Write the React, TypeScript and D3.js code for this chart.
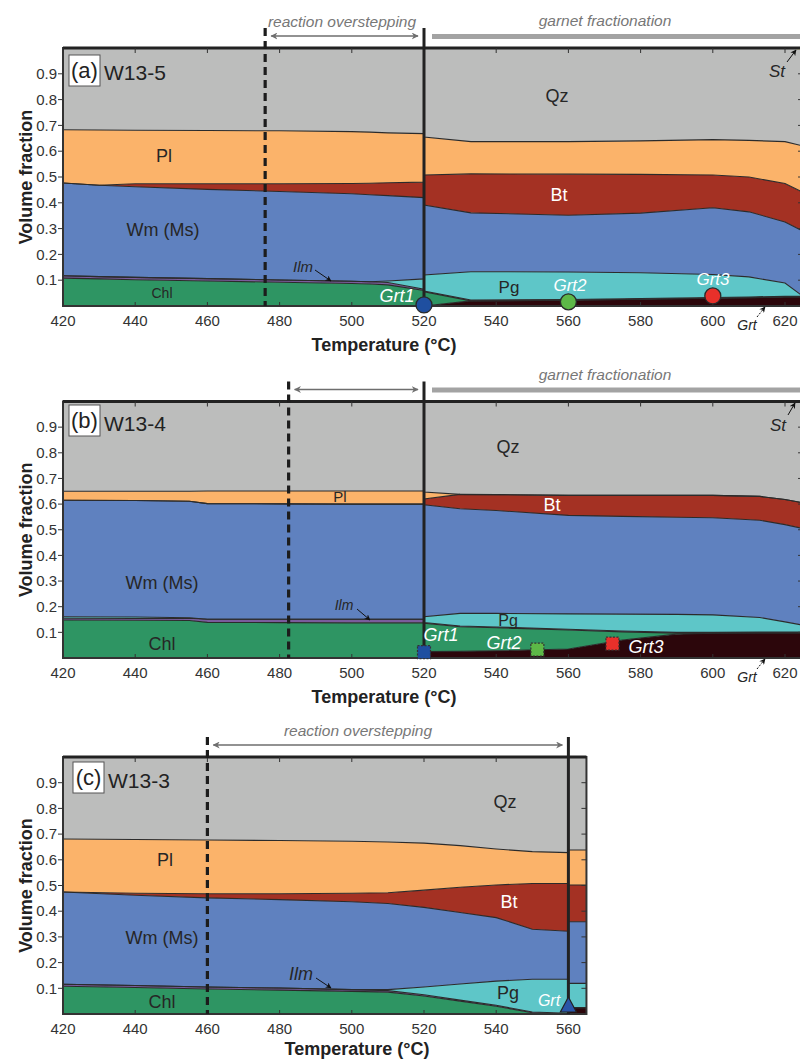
import React from 'react';
import * as d3 from 'd3';

// ---------- data ----------
const PHASES = ['Grt', 'Chl', 'Ilm', 'Pg', 'Wm', 'Bt', 'Pl', 'Qz', 'St'];
const PHASE_COLORS: Record<string, string> = {
  Grt: '#2c060b', Chl: '#2e9563', Ilm: '#7a5c9c', Pg: '#5ec6c8', Wm: '#5f81bf',
  Bt: '#a43123', Pl: '#fbb36a', Qz: '#bcbdbc', St: '#f2e51c',
};
const X_TICKS_AB = [420, 440, 460, 480, 500, 520, 540, 560, 580, 600, 620];
const X_TICKS_C = [420, 440, 460, 480, 500, 520, 540, 560];
const Y_TICKS = [0.1, 0.2, 0.3, 0.4, 0.5, 0.6, 0.7, 0.8, 0.9];

// (a) W13-5
const tempA = [420, 430, 440, 460, 480, 500, 505, 510, 520, 520, 533, 560, 580, 600, 610, 620, 625];
const grtA = [0, 0, 0, 0, 0, 0, 0, 0, 0, 0, 0.02, 0.022, 0.026, 0.03, 0.032, 0.035, 0.035];
const chlA = [0.108, 0.105, 0.102, 0.097, 0.092, 0.087, 0.085, 0.082, 0.06, 0.055, 0, 0, 0, 0, 0, 0, 0];
const ilmA = [0.009, 0.009, 0.009, 0.009, 0.009, 0.009, 0.009, 0.009, 0.005, 0.003, 0.003, 0.003, 0.003, 0.003, 0.003, 0.003, 0.002];
const pgA = [0, 0, 0, 0, 0, 0, 0, 0.006, 0.04, 0.062, 0.11, 0.107, 0.1, 0.089, 0.078, 0.051, 0];
const wmA = [0.36, 0.354, 0.351, 0.346, 0.343, 0.339, 0.337, 0.331, 0.315, 0.271, 0.228, 0.22, 0.231, 0.259, 0.252, 0.237, 0.253];
const btA = [0, 0, 0.012, 0.022, 0.03, 0.04, 0.045, 0.05, 0.06, 0.117, 0.151, 0.159, 0.15, 0.127, 0.135, 0.149, 0.15];
const plA = [0.206, 0.214, 0.207, 0.206, 0.205, 0.201, 0.198, 0.193, 0.188, 0.147, 0.125, 0.126, 0.13, 0.137, 0.142, 0.162, 0.18];
const qzA = [0.317, 0.318, 0.319, 0.32, 0.321, 0.324, 0.326, 0.329, 0.332, 0.345, 0.363, 0.363, 0.36, 0.355, 0.358, 0.361, 0.375];
const stA = [0, 0, 0, 0, 0, 0, 0, 0, 0, 0, 0, 0, 0, 0, 0, 0.002, 0.005];
const grtPointsA = [
  { label: '1', t: 520, v: 0.004, color: '#1f4fa0' },
  { label: '2', t: 560, v: 0.016, color: '#5db847' },
  { label: '3', t: 600, v: 0.039, color: '#e8302a' },
];

// (b) W13-4
const tempB = [420, 440, 455, 460, 480, 500, 510, 520, 520, 530, 540, 560, 575, 590, 600, 613, 620, 625];
const grtB = [0, 0, 0, 0, 0, 0, 0, 0, 0.025, 0.026, 0.028, 0.035, 0.07, 0.093, 0.097, 0.098, 0.098, 0.098];
const chlB = [0.148, 0.147, 0.146, 0.139, 0.138, 0.137, 0.137, 0.137, 0.11, 0.096, 0.09, 0.074, 0.032, 0.004, 0, 0, 0, 0];
const ilmB = [0.007, 0.007, 0.009, 0.012, 0.013, 0.014, 0.014, 0.014, 0.003, 0.003, 0.003, 0.003, 0.003, 0.003, 0.003, 0.003, 0.003, 0.003];
const pgB = [0.006, 0.006, 0.002, 0, 0, 0, 0, 0, 0.023, 0.049, 0.053, 0.06, 0.066, 0.07, 0.068, 0.057, 0.04, 0.027];
const wmB = [0.454, 0.454, 0.454, 0.451, 0.45, 0.449, 0.449, 0.449, 0.436, 0.408, 0.401, 0.384, 0.381, 0.379, 0.379, 0.379, 0.379, 0.377];
const btB = [0, 0, 0, 0, 0, 0, 0, 0, 0.023, 0.056, 0.062, 0.078, 0.082, 0.085, 0.087, 0.093, 0.098, 0.1];
const plB = [0.035, 0.036, 0.039, 0.049, 0.05, 0.051, 0.051, 0.051, 0.027, 0, 0, 0, 0, 0, 0, 0, 0, 0];
const qzB = [0.35, 0.35, 0.35, 0.349, 0.349, 0.349, 0.349, 0.349, 0.353, 0.362, 0.363, 0.366, 0.366, 0.366, 0.366, 0.37, 0.379, 0.389];
const stB = [0, 0, 0, 0, 0, 0, 0, 0, 0, 0, 0, 0, 0, 0, 0, 0, 0.003, 0.006];
const grtPointsB = [
  { label: '1', t: 520, v: 0.023, color: '#1f4fa0' },
  { label: '2', t: 551.4, v: 0.033, color: '#5db847' },
  { label: '3', t: 572.2, v: 0.056, color: '#e8302a' },
];

// (c) W13-3
const tempC = [420, 440, 460, 480, 500, 510, 520, 530, 540, 550, 560, 560, 565];
const grtC = [0, 0, 0, 0, 0, 0, 0, 0, 0, 0, 0, 0.025, 0.025];
const chlC = [0.108, 0.103, 0.097, 0.093, 0.088, 0.085, 0.07, 0.05, 0.03, 0.005, 0, 0, 0];
const ilmC = [0.008, 0.008, 0.008, 0.008, 0.007, 0.006, 0.005, 0.004, 0.004, 0.003, 0.003, 0, 0];
const pgC = [0, 0, 0, 0, 0, 0.004, 0.03, 0.063, 0.094, 0.127, 0.132, 0.094, 0.094];
const wmC = [0.359, 0.351, 0.347, 0.344, 0.342, 0.335, 0.31, 0.278, 0.247, 0.195, 0.187, 0.24, 0.24];
const btC = [0, 0.008, 0.016, 0.023, 0.033, 0.042, 0.067, 0.098, 0.127, 0.178, 0.186, 0.143, 0.143];
const plC = [0.206, 0.209, 0.209, 0.207, 0.202, 0.197, 0.183, 0.162, 0.14, 0.124, 0.12, 0.136, 0.136];
const qzC = [0.319, 0.321, 0.323, 0.325, 0.328, 0.331, 0.335, 0.345, 0.358, 0.368, 0.372, 0.362, 0.362];
const stC = [0, 0, 0, 0, 0, 0, 0, 0, 0, 0, 0, 0, 0];
const grtPointsC = [{ label: '', t: 560, v: 0.035, color: '#2a55a8' }];

// ---------- layout ----------
const PX_PER_DEG = 3.61;
const LEFT = 63;
const FONT = '"Liberation Sans", Arial, sans-serif';

type Label = { text: string; x: number; y: number; size: number; color?: string; italic?: boolean };

const panels = [
  {
    id: 'a', box: '(a)', sample: 'W13-5', domain: [420, 625], top: 48, bottom: 306, xTicks: X_TICKS_AB,
    temps: tempA,
    series: { Grt: grtA, Chl: chlA, Ilm: ilmA, Pg: pgA, Wm: wmA, Bt: btA, Pl: plA, Qz: qzA, St: stA },
    dashedT: 476, solidT: 520, overstep: { text: true, cx: 342 }, fraction: true,
    boxX: 69, boxY: 55, sampleX: 104, sampleY: 80,
    xTitleX: 384, xTitleDy: 45,
    labels: [
      { text: 'Qz', x: 557, y: 96, size: 18 },
      { text: 'Pl', x: 164, y: 156, size: 18 },
      { text: 'Bt', x: 559, y: 195, size: 18, color: '#fff' },
      { text: 'Wm (Ms)', x: 163, y: 230, size: 18 },
      { text: 'Chl', x: 162, y: 293, size: 14 },
      { text: 'Pg', x: 509, y: 287, size: 17 },
    ] as Label[],
    ilm: { x: 303, y: 267, size: 15, ax0: 315, ay0: 270, ax1: 331, ay1: 281 },
    st: { x: 777, y: 71, ax0: 787, ay0: 62, ax1: 796, ay1: 50 },
    grtBelow: { x: 747, y: 325, ax0: 757, ay0: 317, ax1: 765, ay1: 307 },
    points: grtPointsA, shape: 'circle',
    pointLabels: [
      { text: 'Grt1', x: 397, y: 296, size: 18 },
      { text: 'Grt2', x: 570, y: 285, size: 17 },
      { text: 'Grt3', x: 713, y: 279, size: 17 },
    ] as Label[],
  },
  {
    id: 'b', box: '(b)', sample: 'W13-4', domain: [420, 625], top: 401.5, bottom: 658, xTicks: X_TICKS_AB,
    temps: tempB,
    series: { Grt: grtB, Chl: chlB, Ilm: ilmB, Pg: pgB, Wm: wmB, Bt: btB, Pl: plB, Qz: qzB, St: stB },
    dashedT: 482.5, solidT: 520, overstep: { text: false, cx: 0 }, fraction: true,
    boxX: 69, boxY: 405, sampleX: 104, sampleY: 431,
    xTitleX: 384, xTitleDy: 45,
    labels: [
      { text: 'Qz', x: 508, y: 447, size: 18 },
      { text: 'Pl', x: 340, y: 497, size: 15 },
      { text: 'Bt', x: 552, y: 505, size: 18, color: '#fff' },
      { text: 'Wm (Ms)', x: 162, y: 583, size: 18 },
      { text: 'Chl', x: 162, y: 644, size: 18 },
      { text: 'Pg', x: 508, y: 620, size: 16 },
    ] as Label[],
    ilm: { x: 344, y: 605, size: 14, ax0: 357, ay0: 609, ax1: 370, ay1: 620 },
    st: { x: 778, y: 425, ax0: 788, ay0: 415, ax1: 795, ay1: 403 },
    grtBelow: { x: 747, y: 677, ax0: 757, ay0: 669, ax1: 765, ay1: 659 },
    points: grtPointsB, shape: 'square',
    pointLabels: [
      { text: 'Grt1', x: 441, y: 635, size: 18 },
      { text: 'Grt2', x: 504, y: 643, size: 18 },
      { text: 'Grt3', x: 646, y: 647, size: 18 },
    ] as Label[],
  },
  {
    id: 'c', box: '(c)', sample: 'W13-3', domain: [420, 565], top: 757, bottom: 1014, xTicks: X_TICKS_C,
    temps: tempC,
    series: { Grt: grtC, Chl: chlC, Ilm: ilmC, Pg: pgC, Wm: wmC, Bt: btC, Pl: plC, Qz: qzC, St: stC },
    dashedT: 460, solidT: 560, overstep: { text: true, cx: 358 }, fraction: false,
    boxX: 73, boxY: 762, sampleX: 108, sampleY: 788,
    xTitleX: 357, xTitleDy: 41,
    labels: [
      { text: 'Qz', x: 505, y: 802, size: 18 },
      { text: 'Pl', x: 165, y: 860, size: 18 },
      { text: 'Bt', x: 509, y: 902, size: 18, color: '#fff' },
      { text: 'Wm (Ms)', x: 162, y: 938, size: 18 },
      { text: 'Chl', x: 162, y: 1002, size: 18 },
      { text: 'Pg', x: 508, y: 993, size: 18 },
    ] as Label[],
    ilm: { x: 301, y: 974, size: 18, ax0: 316, ay0: 978, ax1: 331, ay1: 988 },
    st: null,
    grtBelow: null,
    points: grtPointsC, shape: 'triangle',
    pointLabels: [{ text: 'Grt', x: 549, y: 1000, size: 16 }] as Label[],
  },
];

function Panel({ cfg }: { cfg: any }) {
  const xr = LEFT + (cfg.domain[1] - cfg.domain[0]) * PX_PER_DEG;
  const x = d3.scaleLinear().domain(cfg.domain).range([LEFT, xr]);
  const y = d3.scaleLinear().domain([0, 1]).range([cfg.bottom, cfg.top]);
  const rows = cfg.temps.map((t: number, i: number) => {
    const r: any = { t };
    PHASES.forEach((p) => { r[p] = cfg.series[p][i]; });
    return r;
  });
  const layers = d3.stack<any>().keys(PHASES)(rows);
  const area = d3.area<any>().x((d) => x(d.data.t)).y0((d) => y(d[0])).y1((d) => y(d[1]));
  const topLine = d3.line<any>().x((d) => x(d.data.t)).y((d) => y(d[1]));
  const clipId = 'clip-' + cfg.id;
  const { top, bottom } = cfg;
  const xd = x(cfg.dashedT);
  const xs = x(cfg.solidT);
  const lineTop = top - 20;
  const arrowY = top - 12;

  return (
    <g>
      <defs>
        <clipPath id={clipId}>
          <rect x={LEFT} y={top} width={xr - LEFT} height={bottom - top} />
        </clipPath>
      </defs>
      <g clipPath={`url(#${clipId})`}>
        {layers.map((layer: any) => (
          <path key={layer.key} d={area(layer) || ''} fill={PHASE_COLORS[layer.key]} />
        ))}
        {layers.filter((l: any) => l.key !== 'Qz' && l.key !== 'St').map((layer: any) => (
          <path key={'l' + layer.key} d={topLine(layer) || ''} fill="none" stroke="#2b2b2b" strokeWidth={1.1} />
        ))}
      </g>
      {/* frame */}
      <rect x={LEFT} y={top} width={xr - LEFT} height={bottom - top} fill="none" stroke="#333" strokeWidth={2} />
      <line x1={LEFT} x2={xr} y1={top} y2={top} stroke="#222" strokeWidth={3} />
      {/* x ticks */}
      {cfg.xTicks.map((t: number) => (
        <g key={'xt' + t}>
          <line x1={x(t)} x2={x(t)} y1={bottom} y2={bottom - 4} stroke="#333" strokeWidth={1} />
          <line x1={x(t)} x2={x(t)} y1={top} y2={top + 5} stroke="#333" strokeWidth={1} />
          <text x={x(t)} y={bottom + 20} textAnchor="middle" fontSize={15} fill="#333" fontFamily={FONT}>{t}</text>
        </g>
      ))}
      {Y_TICKS.map((v) => (
        <g key={'yt' + v}>
          <line x1={LEFT - 5} x2={LEFT} y1={y(v)} y2={y(v)} stroke="#333" strokeWidth={1} />
          <line x1={xr - 5} x2={xr} y1={y(v)} y2={y(v)} stroke="#333" strokeWidth={1} />
          <text x={LEFT - 6} y={y(v)} dy="0.35em" textAnchor="end" fontSize={15} fill="#333" fontFamily={FONT}>{d3.format('.1f')(v)}</text>
        </g>
      ))}
      <text x={cfg.xTitleX} y={bottom + cfg.xTitleDy} textAnchor="middle" fontSize={18} fontWeight="bold" fill="#222" fontFamily={FONT}>Temperature (°C)</text>
      <text transform={`translate(32,${(top + bottom) / 2}) rotate(-90)`} textAnchor="middle" fontSize={18} fontWeight="bold" fill="#222" fontFamily={FONT}>Volume fraction</text>

      {/* phase labels */}
      {cfg.labels.map((l: Label) => (
        <text key={l.text} x={l.x} y={l.y} dy="0.35em" textAnchor="middle" fontSize={l.size} fill={l.color || '#262626'} fontFamily={FONT}>{l.text}</text>
      ))}
      {/* Ilm */}
      <text x={cfg.ilm.x} y={cfg.ilm.y} dy="0.35em" textAnchor="middle" fontSize={cfg.ilm.size} fontStyle="italic" fill="#262626" fontFamily={FONT}>Ilm</text>
      <line x1={cfg.ilm.ax0} y1={cfg.ilm.ay0} x2={cfg.ilm.ax1} y2={cfg.ilm.ay1} stroke="#111" strokeWidth={1} markerEnd="url(#blackHead)" />
      {cfg.st && (
        <g>
          <text x={cfg.st.x} y={cfg.st.y} dy="0.35em" textAnchor="middle" fontSize={17} fontStyle="italic" fill="#262626" fontFamily={FONT}>St</text>
          <line x1={cfg.st.ax0} y1={cfg.st.ay0} x2={cfg.st.ax1} y2={cfg.st.ay1} stroke="#111" strokeWidth={1} markerEnd="url(#blackHead)" />
        </g>
      )}
      {cfg.grtBelow && (
        <g>
          <text x={cfg.grtBelow.x} y={cfg.grtBelow.y} dy="0.35em" textAnchor="middle" fontSize={14} fontStyle="italic" fill="#262626" fontFamily={FONT}>Grt</text>
          <line x1={cfg.grtBelow.ax0} y1={cfg.grtBelow.ay0} x2={cfg.grtBelow.ax1} y2={cfg.grtBelow.ay1} stroke="#111" strokeWidth={1} strokeDasharray="2,1.5" markerEnd="url(#blackHead)" />
        </g>
      )}

      {/* vertical lines */}
      <line x1={xd} x2={xd} y1={lineTop} y2={bottom} stroke="#1c1c1c" strokeWidth={3.2} strokeDasharray="8,5" />
      <line x1={xs} x2={xs} y1={lineTop} y2={bottom} stroke="#222" strokeWidth={3} />
      {/* overstepping arrow */}
      <line x1={xd + 6} x2={xs - 6} y1={arrowY} y2={arrowY} stroke="#6e6e6e" strokeWidth={1.6} markerStart="url(#grayHeadStart)" markerEnd="url(#grayHead)" />
      {cfg.overstep.text && (
        <text x={cfg.overstep.cx} y={top - 21} textAnchor="middle" fontSize={15.5} fontStyle="italic" fill="#777" fontFamily={FONT}>reaction overstepping</text>
      )}
      {cfg.fraction && (
        <g>
          <line x1={432} x2={800} y1={arrowY + 0.5} y2={arrowY + 0.5} stroke="#a3a3a3" strokeWidth={5} />
          <text x={605} y={top - 22} textAnchor="middle" fontSize={15.5} fontStyle="italic" fill="#777" fontFamily={FONT}>garnet fractionation</text>
        </g>
      )}

      {/* panel box label */}
      <rect x={cfg.boxX} y={cfg.boxY} width={31} height={31} fill="#fff" stroke="#555" strokeWidth={1} />
      <text x={cfg.boxX + 15.5} y={cfg.boxY + 15.5} dy="0.35em" textAnchor="middle" fontSize={22} fill="#222" fontFamily={FONT}>{cfg.box}</text>
      <text x={cfg.sampleX} y={cfg.sampleY} fontSize={21} fill="#222" fontFamily={FONT}>{cfg.sample}</text>

      {/* garnet points */}
      {cfg.points.map((p: any, i: number) => {
        const px = x(p.t);
        const py = y(p.v);
        if (cfg.shape === 'circle') {
          return <circle key={'p' + i} cx={px} cy={py} r={8} fill={p.color} stroke="#2a2a2a" strokeWidth={1.3} />;
        }
        if (cfg.shape === 'square') {
          return <rect key={'p' + i} x={px - 6.5} y={py - 6.5} width={13} height={13} fill={p.color} stroke="#333" strokeWidth={1.2} strokeDasharray="2,1.5" />;
        }
        return <path key={'p' + i} d={`M${px},${py - 8} L${px + 8},${py + 7} L${px - 8},${py + 7} Z`} fill={p.color} stroke="#222" strokeWidth={1.2} />;
      })}
      {cfg.pointLabels.map((l: Label) => (
        <text key={l.text} x={l.x} y={l.y} dy="0.35em" textAnchor="middle" fontSize={l.size} fontStyle="italic" fill="#fff" fontFamily={FONT}>{l.text}</text>
      ))}
    </g>
  );
}

export default function App() {
  return (
    <svg width={800} height={1060} style={{ position: 'absolute', left: 0, top: 0, background: '#fff' }}>
      <defs>
        <marker id="grayHead" viewBox="0 0 10 10" refX={9} refY={5} markerWidth={7} markerHeight={7} orient="auto" markerUnits="userSpaceOnUse">
          <path d="M0,0 L10,5 L0,10 L3,5 Z" fill="#6e6e6e" />
        </marker>
        <marker id="grayHeadStart" viewBox="0 0 10 10" refX={9} refY={5} markerWidth={7} markerHeight={7} orient="auto-start-reverse" markerUnits="userSpaceOnUse">
          <path d="M0,0 L10,5 L0,10 L3,5 Z" fill="#6e6e6e" />
        </marker>
        <marker id="blackHead" viewBox="0 0 10 10" refX={9} refY={5} markerWidth={6} markerHeight={6} orient="auto" markerUnits="userSpaceOnUse">
          <path d="M0,0 L10,5 L0,10 L3,5 Z" fill="#111" />
        </marker>
      </defs>
      <rect x={0} y={0} width={800} height={1060} fill="#fff" />
      {panels.map((p) => <Panel key={p.id} cfg={p} />)}
    </svg>
  );
}
